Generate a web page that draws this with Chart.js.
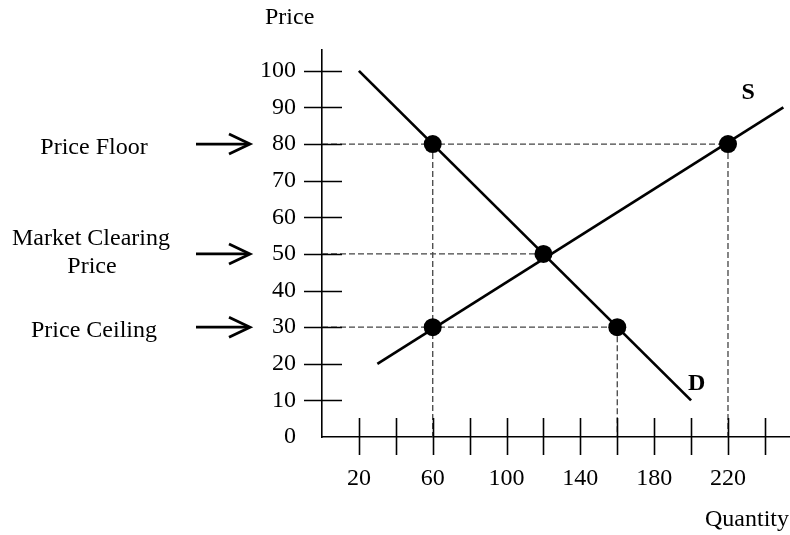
<!DOCTYPE html>
<html>
<head>
<meta charset="utf-8">
<script src="https://cdn.jsdelivr.net/npm/chart.js@4.4.1/dist/chart.umd.min.js"></script>
<style>
  html, body { margin: 0; padding: 0; background: #ffffff; }
  #c { display: block; }
</style>
</head>
<body>
<canvas id="c" width="790" height="535"></canvas>
<script>
// ---- data ----
const demandQ = [20, 200];
const demandP = [100, 10];
const supplyQ = [30, 250];
const supplyP = [20, 90];
const pointQ = [60, 120, 220, 60, 160];
const pointP = [80, 50, 80, 30, 30];
const levelNames = [["Price Floor"], ["Market Clearing", "Price"], ["Price Ceiling"]];
const levelPrices = [80, 50, 30];
const levelEndQ = [220, 120, 160];
const dropQ = [60, 160, 220];
const dropFromP = [80, 30, 80];
const xLabelValues = [20, 60, 100, 140, 180, 220];
const xTickStep = 20;
const yTickStep = 10;
const xMax = 253.6;
const yMax = 105.7;
const curveLabels = ["S", "D"];
const curveLabelQ = [231, 203];
const curveLabelP = [94, 14.5];

const FONT = '"Liberation Serif", "Times New Roman", serif';

function pairs(qs, ps) { return qs.map((q, i) => ({ x: q, y: ps[i] })); }

const datasets = [];
// dashed horizontal guides
levelPrices.forEach((p, i) => {
  datasets.push({
    data: [{ x: 0, y: p }, { x: levelEndQ[i], y: p }],
    showLine: true, borderColor: '#444', borderWidth: 1.3, borderDash: [6, 3],
    pointRadius: 0, order: 5
  });
});
// dashed vertical guides
dropQ.forEach((q, i) => {
  datasets.push({
    data: [{ x: q, y: dropFromP[i] }, { x: q, y: 0 }],
    showLine: true, borderColor: '#444', borderWidth: 1.3, borderDash: [6, 3],
    pointRadius: 0, order: 5
  });
});
datasets.push({
  data: pairs(demandQ, demandP), showLine: true, borderColor: '#000',
  borderWidth: 2.7, pointRadius: 0, order: 3
});
datasets.push({
  data: pairs(supplyQ, supplyP), showLine: true, borderColor: '#000',
  borderWidth: 2.7, pointRadius: 0, order: 3
});
datasets.push({
  data: pairs(pointQ, pointP), showLine: false, pointRadius: 9,
  pointBackgroundColor: '#000', pointBorderColor: '#000', pointBorderWidth: 0, order: 1
});

const decor = {
  id: 'decor',
  afterDraw(chart) {
    const ctx = chart.ctx;
    const xs = chart.scales.x, ys = chart.scales.y;
    const ax = xs.getPixelForValue(0), ay = ys.getPixelForValue(0);
    ctx.save();
    ctx.strokeStyle = '#000';
    ctx.lineWidth = 1.6;
    // crossing tick marks
    ys.ticks.forEach(t => {
      if (t.value === 0) return;
      const py = Math.round(ys.getPixelForValue(t.value)) + 0.5;
      ctx.beginPath(); ctx.moveTo(ax - 18, py); ctx.lineTo(ax + 20, py); ctx.stroke();
    });
    xs.ticks.forEach(t => {
      if (t.value === 0) return;
      const px = Math.round(xs.getPixelForValue(t.value)) + 0.5;
      ctx.beginPath(); ctx.moveTo(px, ay - 19); ctx.lineTo(px, ay + 18); ctx.stroke();
    });
    // arrows and left labels
    ctx.fillStyle = '#000';
    ctx.font = '24px ' + FONT;
    ctx.textAlign = 'center';
    ctx.textBaseline = 'middle';
    levelPrices.forEach((p, i) => {
      const py = ys.getPixelForValue(p);
      ctx.lineWidth = 2.8;
      ctx.beginPath(); ctx.moveTo(196, py); ctx.lineTo(248, py); ctx.stroke();
      ctx.beginPath(); ctx.moveTo(229, py - 10); ctx.lineTo(250, py); ctx.lineTo(229, py + 10); ctx.stroke();
      const lines = levelNames[i];
      if (lines.length === 1) {
        ctx.fillText(lines[0], 94, py + 4);
      } else {
        ctx.fillText(lines[0], 91, py - 15);
        ctx.fillText(lines[1], 92, py + 13);
      }
    });
    // axis titles
    ctx.textAlign = 'left';
    ctx.fillText('Price', 265, 18);
    ctx.fillText('Quantity', 705, 520);
    // curve labels
    ctx.font = 'bold 24px ' + FONT;
    ctx.textAlign = 'center';
    curveLabels.forEach((s, i) => {
      ctx.fillText(s, xs.getPixelForValue(curveLabelQ[i]), ys.getPixelForValue(curveLabelP[i]));
    });
    ctx.restore();
  }
};

new Chart(document.getElementById('c'), {
  type: 'scatter',
  data: { datasets },
  options: {
    responsive: false,
    devicePixelRatio: 1,
    animation: false,
    layout: { autoPadding: false, padding: { top: 50, left: 0, right: 0, bottom: 0 } },
    plugins: { legend: { display: false }, tooltip: { enabled: false } },
    scales: {
      x: {
        type: 'linear', min: 0, max: xMax,
        afterFit(s) { s.height = 98; },
        grid: { display: false },
        border: { display: true, color: '#000', width: 1.6 },
        ticks: {
          stepSize: xTickStep, includeBounds: false, autoSkip: false, maxRotation: 0,
          padding: 19, color: '#000', font: { family: FONT, size: 24 },
          callback: v => xLabelValues.includes(v) ? String(v) : ''
        }
      },
      y: {
        type: 'linear', min: 0, max: yMax,
        afterFit(s) { s.width = 322; },
        grid: { display: false },
        border: { display: true, color: '#000', width: 1.6 },
        ticks: {
          stepSize: yTickStep, includeBounds: false, autoSkip: false,
          padding: 18, color: '#000', font: { family: FONT, size: 24 },
          callback: v => (v % 10 === 0 ? String(v) : '')
        }
      }
    }
  },
  plugins: [decor]
});
</script>
</body>
</html>
